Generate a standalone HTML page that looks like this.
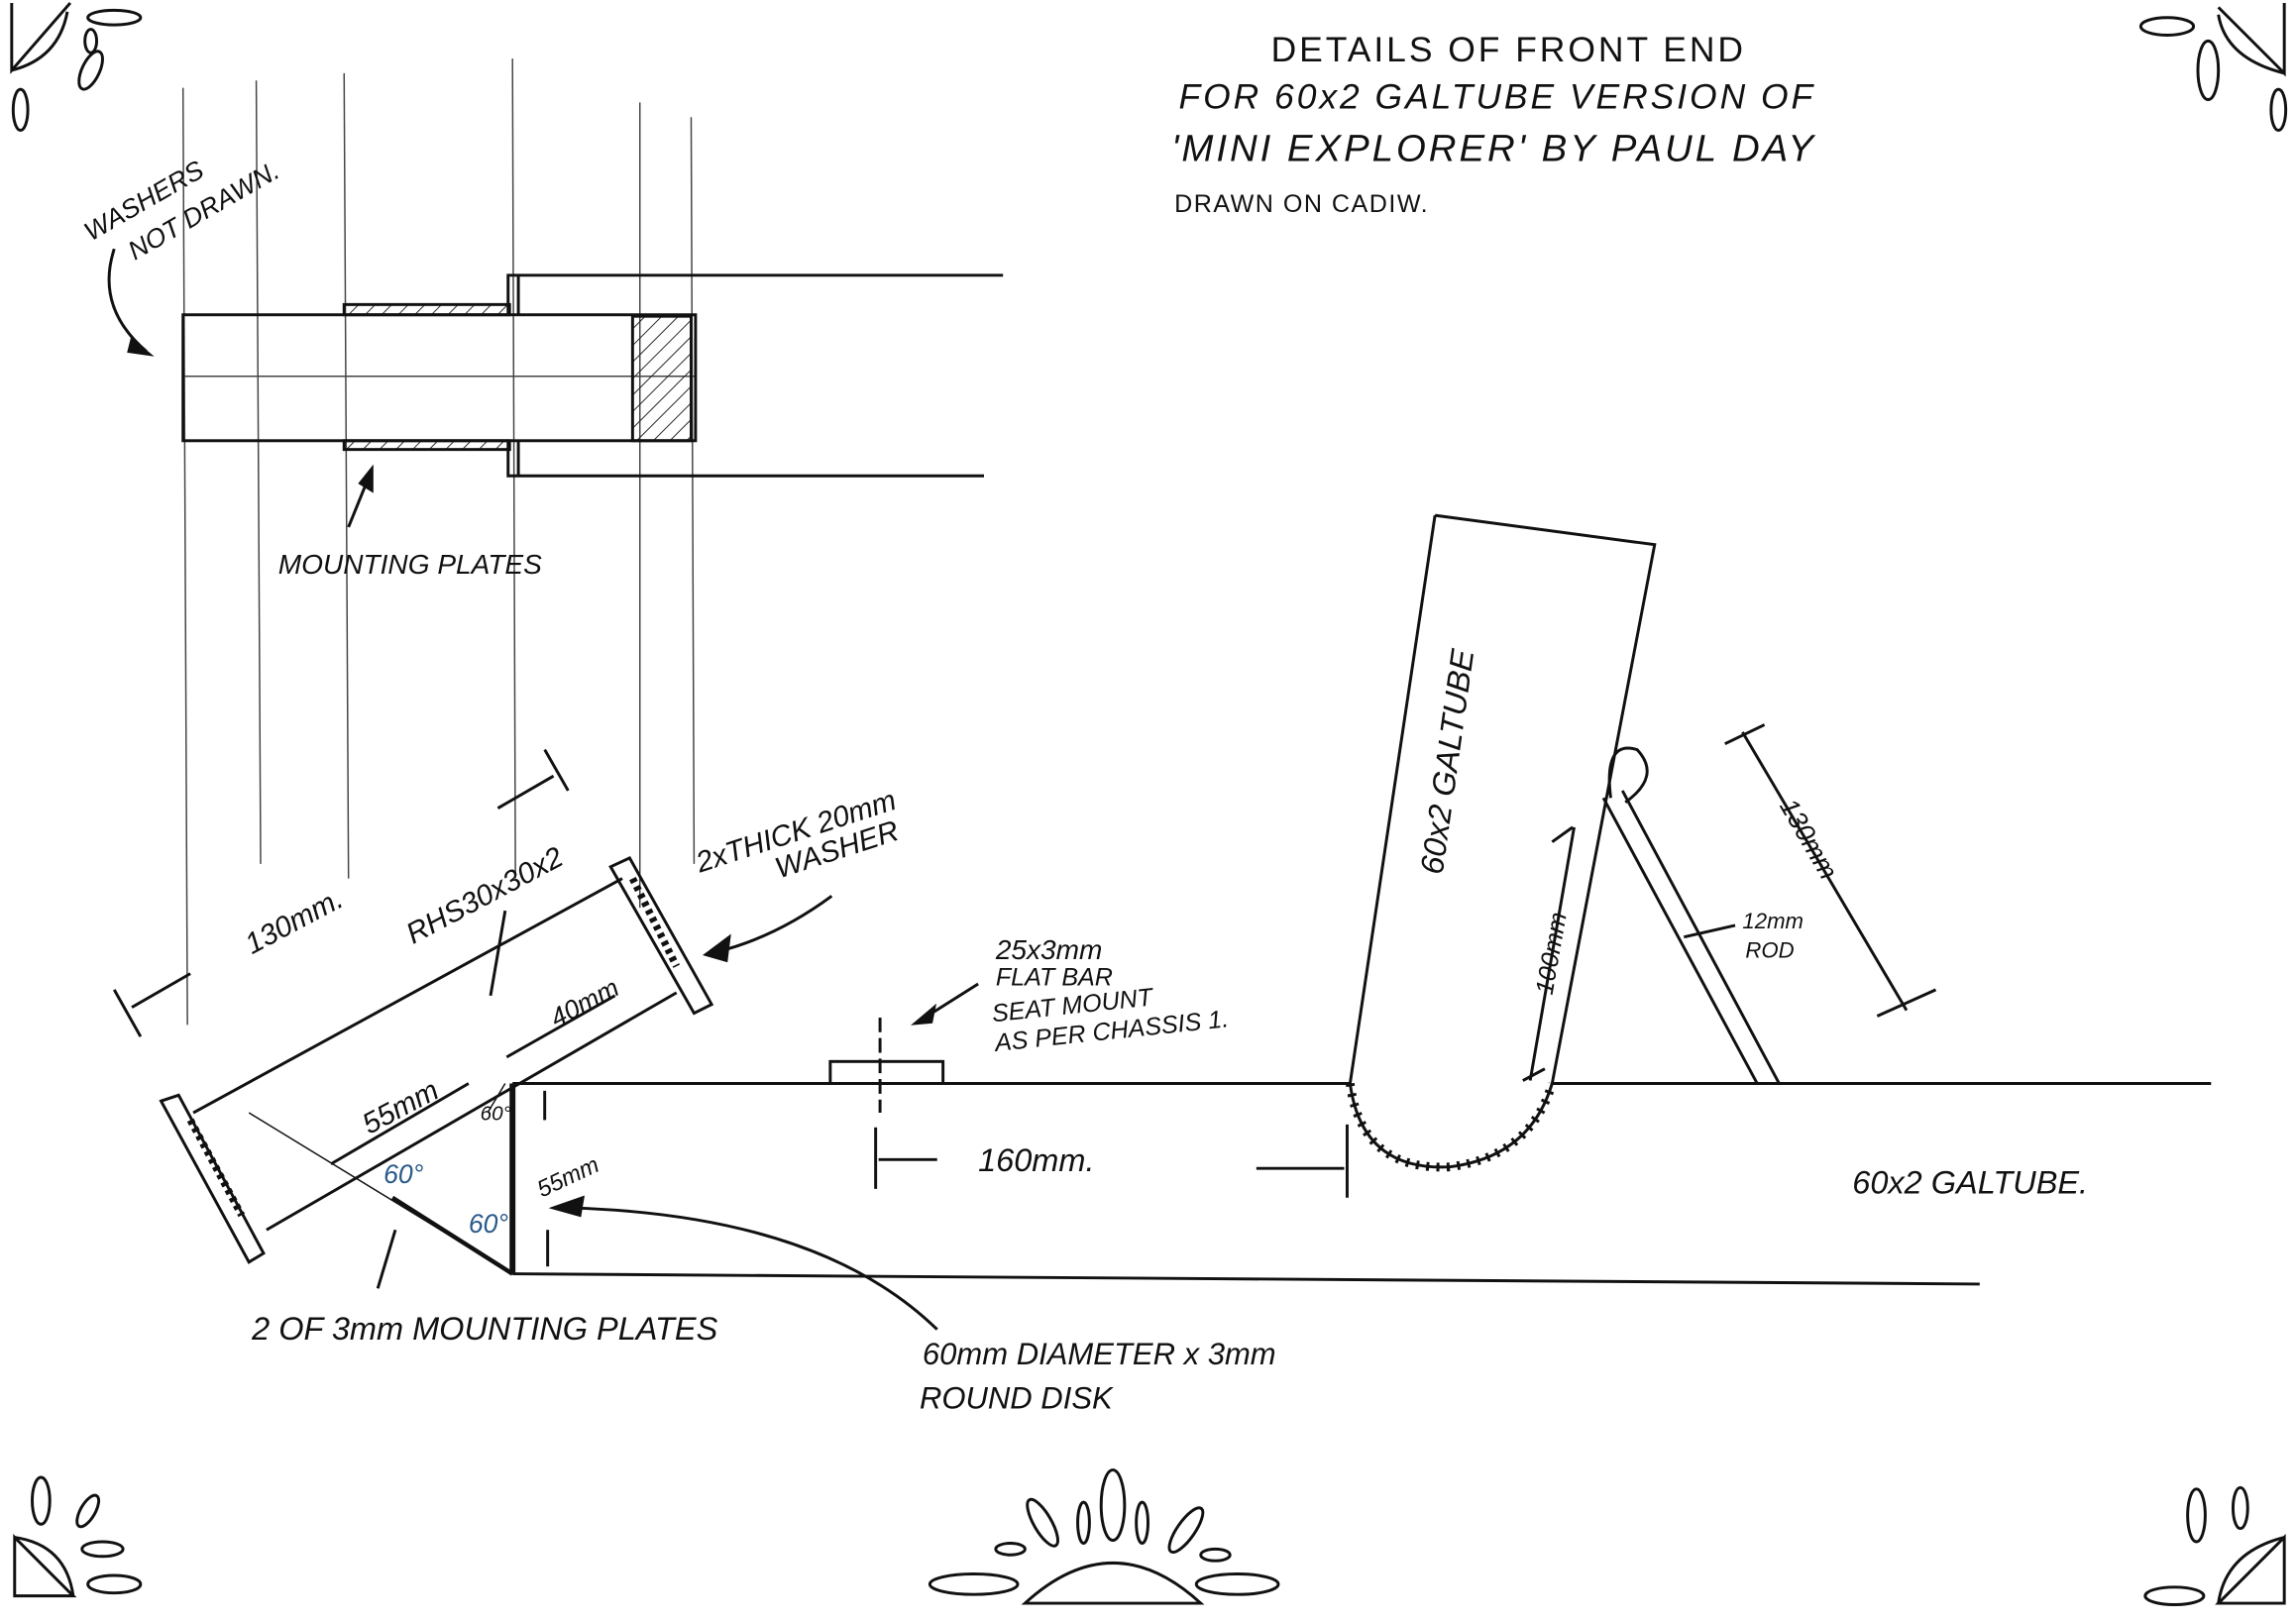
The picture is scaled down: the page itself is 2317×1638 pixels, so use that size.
<!DOCTYPE html>
<html><head><meta charset="utf-8"><style>
html,body{margin:0;padding:0;background:#fff;}
svg{display:block;}
text{font-family:"Liberation Sans",sans-serif;fill:#111;font-style:italic;}
</style></head><body>
<svg width="2317" height="1638" viewBox="0 0 1568 1108.5" preserveAspectRatio="none" xmlns="http://www.w3.org/2000/svg">
<rect width="1568" height="1108.5" fill="#fff"/>
<defs>
<pattern id="h" width="8" height="8" patternUnits="userSpaceOnUse" patternTransform="rotate(45)">
<line x1="0" y1="0" x2="0" y2="8" stroke="#222" stroke-width="1.3"/></pattern>
</defs>
<g stroke="#111" fill="none" stroke-width="2">
<!-- title -->
</g>
<text x="868" y="42" font-size="24" style="font-style:normal" letter-spacing="2">DETAILS   OF   FRONT   END</text>
<text x="805" y="74" font-size="24" letter-spacing="2">FOR  60x2 GALTUBE  VERSION OF</text>
<text x="800" y="110" font-size="26" letter-spacing="2">'MINI  EXPLORER'  BY  PAUL DAY</text>
<text x="802" y="145" font-size="17" style="font-style:normal" letter-spacing="1">DRAWN   ON   CADIW.</text>

<!-- thin vertical lines -->
<g stroke="#444" stroke-width="1">
<line x1="125" y1="60" x2="128" y2="700"/>
<line x1="175" y1="55" x2="178" y2="590"/>
<line x1="235" y1="50" x2="238" y2="600"/>
<line x1="350" y1="40" x2="352" y2="600"/>
<line x1="437" y1="70" x2="437" y2="620"/>
<line x1="472" y1="80" x2="474" y2="590"/>
<line x1="125" y1="257" x2="475" y2="257"/>
</g>
<g stroke="#111" fill="none" stroke-width="2">
<rect x="125" y="215" width="350" height="86"/>
<rect x="432" y="216" width="40" height="85" fill="url(#h)"/>
<rect x="235" y="208" width="113" height="7" fill="url(#h)"/>
<rect x="235" y="301" width="113" height="6" fill="url(#h)"/>
<polyline points="347,215 347,188 685,188"/>
<polyline points="347,301 347,325 672,325"/>
<line x1="354" y1="188" x2="354" y2="215"/>
<line x1="354" y1="301" x2="354" y2="325"/>
<!-- washers arrow -->
<path d="M78,170 Q65,210 100,240"/>
<path d="M90,232 L102,242 L88,240 Z" fill="#111"/>
<!-- mounting plates arrow -->
<line x1="238" y1="360" x2="253" y2="323"/>
<path d="M246,330 L254,320 L254,335 Z" fill="#111"/>

<!-- bottom tube -->
<line x1="350" y1="740" x2="922" y2="740"/>
<line x1="1060" y1="740" x2="1510" y2="740"/>
<line x1="350" y1="870" x2="1352" y2="877"/>
<line x1="350" y1="740" x2="350" y2="870" stroke-width="4"/>
<!-- seat mount -->
<rect x="567" y="725" width="77" height="15"/>
<line x1="601" y1="695" x2="601" y2="760" stroke-dasharray="10,4"/>
<path d="M668,672 L630,696"/><path d="M625,699 L638,688 L636,698 Z" fill="#111"/>
<!-- 160 dim -->
<line x1="598" y1="770" x2="598" y2="812"/>
<line x1="600" y1="792" x2="640" y2="792"/>
<line x1="920" y1="768" x2="920" y2="818"/>
<line x1="858" y1="798" x2="918" y2="798"/>

<!-- upright galtube -->
<polyline points="980,352 1130,372 1060,740"/>
<line x1="980" y1="352" x2="922" y2="740"/>
<path d="M922,740 Q930,800 990,797 Q1045,790 1060,740"/>
<path d="M922,740 Q930,800 990,797 Q1045,790 1060,740" stroke-dasharray="2,5" stroke-width="6"/>
<line x1="1075" y1="565" x2="1045" y2="738"/>
<!-- rod -->
<line x1="1095" y1="545" x2="1200" y2="740"/>
<line x1="1108" y1="540" x2="1215" y2="740"/>
<path d="M1100,545 Q1095,505 1118,512 Q1135,530 1110,548"/>
<line x1="1150" y1="640" x2="1185" y2="632"/>
<!-- 130 dim right -->
<line x1="1190" y1="500" x2="1302" y2="690"/>
<line x1="1178" y1="508" x2="1205" y2="495"/>
<line x1="1282" y1="694" x2="1322" y2="676"/>

<!-- diagonal RHS -->
<line x1="132" y1="760" x2="425" y2="600"/>
<line x1="182" y1="840" x2="462" y2="678"/>
<polygon points="110,752 122,748 180,856 170,862" stroke-width="2"/>
<polygon points="417,592 430,586 486,686 474,692"/>
<line x1="130" y1="765" x2="165" y2="830" stroke-dasharray="3,3" stroke-width="5"/>
<line x1="432" y1="600" x2="462" y2="660" stroke-dasharray="3,3" stroke-width="5"/>
<!-- mounting plate 60 deg -->
<line x1="268" y1="818" x2="350" y2="870" stroke-width="3"/>
<line x1="170" y1="760" x2="350" y2="870" stroke-width="1"/>
<line x1="333" y1="760" x2="345" y2="740" stroke-width="1"/>
<!-- RHS arrow -->
<line x1="345" y1="622" x2="335" y2="680"/>
<!-- washer arrow -->
<path d="M568,612 Q530,640 490,650"/><path d="M482,652 L498,640 L496,656 Z" fill="#111"/>
<!-- 130 dim left -->
<line x1="90" y1="688" x2="130" y2="665"/>
<line x1="78" y1="676" x2="96" y2="708"/>
<line x1="340" y1="552" x2="378" y2="530"/>
<line x1="372" y1="512" x2="388" y2="540"/>
<!-- 55mm -->
<line x1="226" y1="795" x2="320" y2="740"/>
<line x1="346" y1="722" x2="420" y2="680"/>
<!-- 55 vertical -->
<line x1="372" y1="745" x2="372" y2="765"/>
<line x1="374" y1="840" x2="374" y2="865"/>
<!-- disk leader -->
<path d="M640,908 Q560,830 390,825"/>
<path d="M378,825 L398,818 L396,830 Z" fill="#111"/>
<line x1="258" y1="880" x2="270" y2="840"/>
<!-- 100mm upright dim -->
<line x1="1074" y1="565" x2="1060" y2="575"/>
<line x1="1040" y1="738" x2="1055" y2="730"/>
</g>

<!-- labels -->
<text x="0" y="0" font-size="18" transform="translate(62,165) rotate(-30)">WASHERS</text>
<text x="0" y="0" font-size="18" transform="translate(92,178) rotate(-30)">NOT DRAWN.</text>
<text x="190" y="392" font-size="19">MOUNTING PLATES</text>
<text x="0" y="0" font-size="20" transform="translate(172,652) rotate(-28)">130mm.</text>
<text x="0" y="0" font-size="20" transform="translate(282,645) rotate(-28)">RHS30x30x2</text>
<text x="0" y="0" font-size="20" transform="translate(478,596) rotate(-18)">2xTHICK 20mm</text>
<text x="0" y="0" font-size="20" transform="translate(532,600) rotate(-18)">WASHER</text>
<text x="0" y="0" font-size="18" transform="translate(380,702) rotate(-28)">40mm</text>
<text x="0" y="0" font-size="20" transform="translate(252,775) rotate(-28)">55mm</text>
<text x="262" y="808" font-size="18" fill="#2a5a8a" style="fill:#2a5a8a">60°</text>
<text x="320" y="842" font-size="18" style="fill:#2a5a8a">60°</text>
<text x="328" y="765" font-size="14">60°</text>
<text x="0" y="0" font-size="16" transform="translate(370,818) rotate(-25)">55mm</text>
<text x="172" y="915" font-size="22">2 OF  3mm  MOUNTING  PLATES</text>
<text x="630" y="932" font-size="21">60mm  DIAMETER x 3mm</text>
<text x="628" y="962" font-size="21">ROUND  DISK</text>
<text x="680" y="655" font-size="19">25x3mm</text>
<text x="680" y="673" font-size="17">FLAT BAR</text>
<text x="0" y="0" font-size="17" transform="translate(678,698) rotate(-6)">SEAT MOUNT</text>
<text x="0" y="0" font-size="17" transform="translate(680,718) rotate(-6)">AS PER CHASSIS 1.</text>
<text x="668" y="800" font-size="22">160mm.</text>
<text x="0" y="0" font-size="22" transform="translate(985,598) rotate(-82)">60x2 GALTUBE</text>
<text x="0" y="0" font-size="17" transform="translate(1060,680) rotate(-80)">100mm</text>
<text x="1190" y="634" font-size="15">12mm</text>
<text x="1192" y="654" font-size="15">ROD</text>
<text x="0" y="0" font-size="18" transform="translate(1215,550) rotate(60)">130mm</text>
<text x="1265" y="815" font-size="22">60x2 GALTUBE.</text>

<!-- sun decorations -->
<g stroke="#111" fill="none" stroke-width="2">
<path d="M8,2 L8,48 L48,2"/><path d="M8,48 Q40,40 46,8"/>
<ellipse cx="62" cy="48" rx="6" ry="14" transform="rotate(25 62 48)"/>
<ellipse cx="14" cy="75" rx="5" ry="14"/>
<ellipse cx="78" cy="12" rx="18" ry="5"/>
<ellipse cx="62" cy="28" rx="4" ry="8"/>
<path d="M1560,2 L1560,50 L1515,5"/><path d="M1560,50 Q1520,40 1515,10"/>
<ellipse cx="1508" cy="48" rx="7" ry="20"/>
<ellipse cx="1480" cy="18" rx="18" ry="6"/>
<ellipse cx="1556" cy="75" rx="5" ry="14"/>
<path d="M10,1090 L10,1050 L50,1090 Z"/><path d="M10,1050 Q45,1055 50,1090"/>
<ellipse cx="28" cy="1025" rx="6" ry="16"/>
<ellipse cx="60" cy="1032" rx="5" ry="12" transform="rotate(30 60 1032)"/>
<ellipse cx="78" cy="1082" rx="18" ry="6"/>
<ellipse cx="70" cy="1058" rx="14" ry="5"/>
<path d="M1560,1095 L1560,1050 L1515,1095 Z"/><path d="M1560,1050 Q1520,1060 1515,1095"/>
<ellipse cx="1500" cy="1035" rx="6" ry="18"/>
<ellipse cx="1530" cy="1030" rx="5" ry="14"/>
<ellipse cx="1485" cy="1090" rx="20" ry="6"/>
<path d="M700,1095 Q760,1040 820,1095 Z"/>
<ellipse cx="760" cy="1028" rx="8" ry="24"/>
<ellipse cx="740" cy="1040" rx="4" ry="14"/>
<ellipse cx="780" cy="1040" rx="4" ry="14"/>
<ellipse cx="712" cy="1040" rx="6" ry="18" transform="rotate(-30 712 1040)"/>
<ellipse cx="810" cy="1045" rx="6" ry="18" transform="rotate(35 810 1045)"/>
<ellipse cx="665" cy="1082" rx="30" ry="7"/>
<ellipse cx="845" cy="1082" rx="28" ry="7"/>
<ellipse cx="690" cy="1058" rx="10" ry="4"/>
<ellipse cx="830" cy="1062" rx="10" ry="4"/>
</g>
</svg>
</body></html>
